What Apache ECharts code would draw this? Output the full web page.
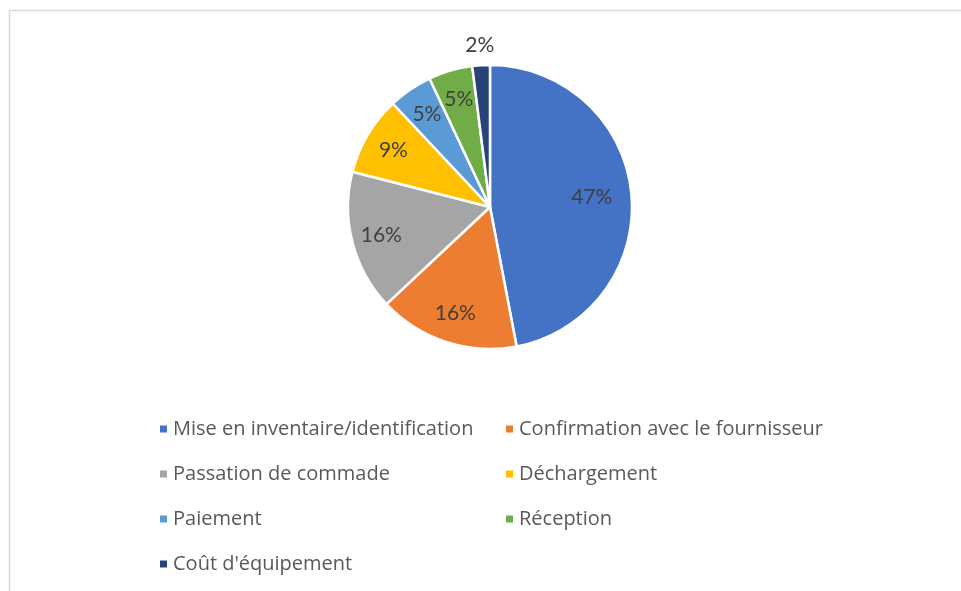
<!DOCTYPE html>
<html>
<head>
<meta charset="utf-8">
<script src="https://cdn.jsdelivr.net/npm/echarts@6/dist/echarts.min.js"></script>
<style>
  html, body { margin: 0; padding: 0; background: #ffffff; }
  #chart { width: 961px; height: 591px; }
</style>
</head>
<body>
<div id="chart"></div>
<script>
// Répartition des coûts par activité (en %)
const categories = [
  "Mise en inventaire/identification",
  "Confirmation avec le fournisseur",
  "Passation de commade",
  "Déchargement",
  "Paiement",
  "Réception",
  "Coût d'équipement"
];
const values = [47, 16, 16, 9, 5, 5, 2];
const colors = ["#4472C4", "#ED7D31", "#A5A5A5", "#FFC000", "#5B9BD5", "#70AD47", "#264478"];

// Legend columns (indices into categories)
const legendLeftCol = [0, 2, 4, 6];
const legendRightCol = [1, 3, 5];

const LABEL_FONT = "Lato, 'Open Sans', sans-serif";
const LEGEND_FONT = "'Open Sans', 'Noto Sans', sans-serif";
const CX = 490, CY = 207, R = 142;

const total = values.reduce((a, b) => a + b, 0);
const cumStart = [];
values.reduce((acc, v, i) => { cumStart[i] = acc; return acc + v; }, 0);

const chart = echarts.init(document.getElementById('chart'), null, { renderer: 'canvas' });

const legendBase = {
  orient: 'vertical',
  top: 413,
  icon: 'rect',
  itemWidth: 9,
  itemHeight: 9,
  itemGap: 23,
  selectedMode: false,
  textStyle: { color: '#595959', fontSize: 20, fontFamily: LEGEND_FONT, lineHeight: 22 }
};

chart.setOption({
  animation: false,
  color: colors,
  graphic: [{
    type: 'rect',
    shape: { x: 9.5, y: 10.5, width: 1200, height: 1000 },
    style: { fill: 'none', stroke: '#d9d9d9', lineWidth: 1.5 },
    silent: true
  }],
  legend: [
    Object.assign({}, legendBase, { left: 153, data: legendLeftCol.map(i => categories[i]) }),
    Object.assign({}, legendBase, { left: 499, data: legendRightCol.map(i => categories[i]) })
  ],
  series: [{
    type: 'pie',
    center: [CX, CY],
    radius: [0, R],
    startAngle: 90,
    clockwise: true,
    avoidLabelOverlap: false,
    itemStyle: { borderColor: '#ffffff', borderWidth: 2.5 },
    label: {
      show: true,
      position: 'inside',
      formatter: p => Math.round(p.value / total * 100) + '%',
      color: '#404040',
      fontSize: 21,
      fontFamily: LABEL_FONT
    },
    labelLine: { show: false },
    labelLayout: function (params) {
      const i = params.dataIndex;
      const mid = (cumStart[i] + values[i] / 2) / total * Math.PI * 2;
      const share = values[i] / total;
      const k = share < 0.03 ? 1.14 : (share > 0.4 ? 0.72 : 0.79);
      return {
        x: CX + Math.sin(mid) * R * k,
        y: CY - Math.cos(mid) * R * k,
        align: 'center',
        verticalAlign: 'middle'
      };
    },
    emphasis: { disabled: true },
    data: categories.map((c, i) => ({ name: c, value: values[i] }))
  }]
});
</script>
</body>
</html>
